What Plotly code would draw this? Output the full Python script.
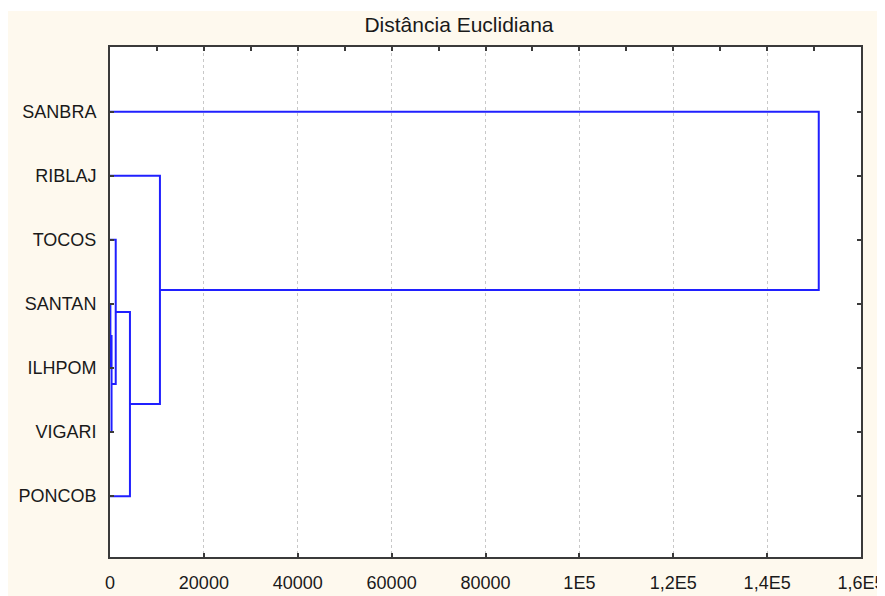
import plotly.graph_objects as go

# ---- data ----
leaf_labels = ["SANBRA", "RIBLAJ", "TOCOS", "SANTAN", "ILHPOM", "VIGARI", "PONCOB"]
leaf_pos = [1, 2, 3, 4, 5, 6, 7]
# merges: (left cluster id, right cluster id, linkage distance); leaves are ids 0..6, new clusters 7..
merge_left = [3, 7, 2, 9, 1, 0]
merge_right = [4, 5, 8, 6, 10, 11]
merge_height = [80, 330, 1220, 4250, 10640, 151000]
x_tickvals = [0, 20000, 40000, 60000, 80000, 100000, 120000, 140000, 160000]
x_ticktext = ["0", "20000", "40000", "60000", "80000", "1E5", "1,2E5", "1,4E5", "1,6E5"]
title_text = "Distância Euclidiana"

# ---- build dendrogram segments ----
node_y = {i: p for i, p in enumerate(leaf_pos)}
node_h = {i: 0 for i in range(len(leaf_pos))}
xs, ys = [], []
for k, (a, b, h) in enumerate(zip(merge_left, merge_right, merge_height)):
    nid = len(leaf_pos) + k
    xs += [node_h[a], h, h, node_h[b], None]
    ys += [node_y[a], node_y[a], node_y[b], node_y[b], None]
    node_y[nid] = (node_y[a] + node_y[b]) / 2
    node_h[nid] = h

# page body has an 8px margin, so the figure starts at (8, 8) in the window
W, H = 877, 588
ml, mr, mt, mb = 102, 24, 39, 39
pw, ph = W - ml - mr, H - mt - mb

fig = go.Figure()
fig.add_trace(go.Scatter(x=xs, y=ys, mode="lines",
                         line=dict(color="#2020FF", width=2),
                         hoverinfo="skip", showlegend=False))
fig.add_trace(go.Scatter(x=[None], y=[None], xaxis="x2", yaxis="y",
                         mode="lines", hoverinfo="skip", showlegend=False))

font = dict(family="Arial, Liberation Sans, sans-serif", size=18, color="#1a1a1a")
frame = "#3a3a3a"

fig.update_layout(
    width=W, height=H,
    margin=dict(l=ml, r=mr, t=mt, b=mb, pad=0),
    paper_bgcolor="#FEF9EE",
    plot_bgcolor="#FFFFFF",
    font=font,
    title=dict(text=title_text, xref="container", yref="container",
               x=451 / W, y=1 - 17 / H, xanchor="center", yanchor="middle",
               font=dict(family="Arial, Liberation Sans, sans-serif", size=21, color="#1a1a1a")),
    xaxis=dict(range=[0, 160000], tickvals=x_tickvals, ticktext=x_ticktext,
               ticks="inside", ticklen=4, tickwidth=2, tickcolor=frame,
               showline=True, linecolor=frame, linewidth=2, mirror=True,
               showgrid=True, gridcolor="#C8C8C8", griddash="dot", gridwidth=1,
               zeroline=False, ticklabelstandoff=8, tickfont=font, automargin=False),
    xaxis2=dict(range=[0, 160000], overlaying="x", side="top", dtick=10000, tick0=0,
                ticks="inside", ticklen=4, tickwidth=2, tickcolor=frame,
                showticklabels=False, showgrid=False, zeroline=False, showline=False,
                automargin=False),
    yaxis=dict(range=[7.95, -0.01], tickvals=leaf_pos, ticktext=leaf_labels,
               ticks="inside", ticklen=4, tickwidth=2, tickcolor=frame,
               showline=True, linecolor=frame, linewidth=2, mirror="ticks",
               showgrid=False, zeroline=False, ticklabelstandoff=8, tickfont=font,
               automargin=False),
    shapes=[
        dict(type="rect", xref="paper", yref="paper",
             x0=-0.5, x1=1.5, y0=1 + (mt - 3) / ph, y1=1.5,
             fillcolor="white", line=dict(width=0), layer="below"),
    ],
)

fig.write_html("out.html")
